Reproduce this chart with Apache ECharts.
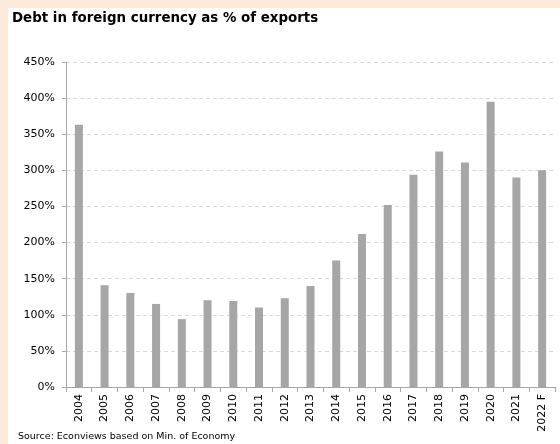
<!DOCTYPE html>
<html>
<head>
<meta charset="utf-8">
<style>
  html, body { margin: 0; padding: 0; background: #fdeadb; }
  #frame { position: absolute; left: 8px; top: 8px; width: 552px; height: 436px; background: #ffffff; }
  #chart { position: absolute; left: 0; top: 0; width: 560px; height: 444px; }
</style>
<script src="https://cdn.jsdelivr.net/npm/echarts@6/dist/echarts.min.js"></script>
</head>
<body>
<div id="frame"></div>
<div id="chart"></div>
<script>
// Foreign-currency debt relative to exports, by year (%)
const years = ['2004', '2005', '2006', '2007', '2008', '2009', '2010', '2011', '2012', '2013',
               '2014', '2015', '2016', '2017', '2018', '2019', '2020', '2021', '2022 F'];
const debtToExports = [363, 141, 130, 115, 94, 120, 119, 110, 123, 140,
                       175, 212, 252, 294, 326, 311, 395, 290, 300];
const yTicks = { min: 0, max: 450, step: 50 };

const chart = echarts.init(document.getElementById('chart'), null, { renderer: 'canvas' });
const font = 'DejaVu Sans, Verdana, sans-serif';

chart.setOption({
  backgroundColor: 'transparent',
  animation: false,
  title: [
    {
      text: 'Debt in foreign currency as % of exports',
      left: 12, top: 12, padding: 0,
      textStyle: { fontFamily: font, fontSize: 13.4, fontWeight: 'bold', color: '#000000' }
    },
    {
      text: 'Source: Econviews based on Min. of Economy',
      left: 18, top: 432, padding: 0,
      textStyle: { fontFamily: font, fontSize: 9.5, fontWeight: 'normal', color: '#000000' }
    }
  ],
  grid: { left: 66, right: 5, top: 62, bottom: 57, containLabel: false },
  xAxis: {
    type: 'category',
    data: years,
    axisLine: { lineStyle: { color: '#a6a6a6', width: 1 } },
    axisTick: { show: true, alignWithLabel: false, length: 5, lineStyle: { color: '#a6a6a6' } },
    axisLabel: {
      rotate: 90, interval: 0, margin: 7,
      fontFamily: font, fontSize: 11, color: '#000000'
    },
    splitLine: { show: false }
  },
  yAxis: {
    type: 'value',
    min: yTicks.min, max: yTicks.max, interval: yTicks.step,
    axisLine: { show: true, lineStyle: { color: '#a6a6a6', width: 1 } },
    axisTick: { show: true, length: 4, lineStyle: { color: '#a6a6a6' } },
    axisLabel: {
      formatter: '{value}%', margin: 11,
      fontFamily: font, fontSize: 11, color: '#000000'
    },
    splitLine: { show: true, lineStyle: { color: '#d9d9d9', type: [4, 3], width: 1 } }
  },
  series: [{
    type: 'bar',
    data: debtToExports,
    barWidth: 8,
    itemStyle: { color: '#a6a6a6' }
  }]
});
</script>
</body>
</html>
